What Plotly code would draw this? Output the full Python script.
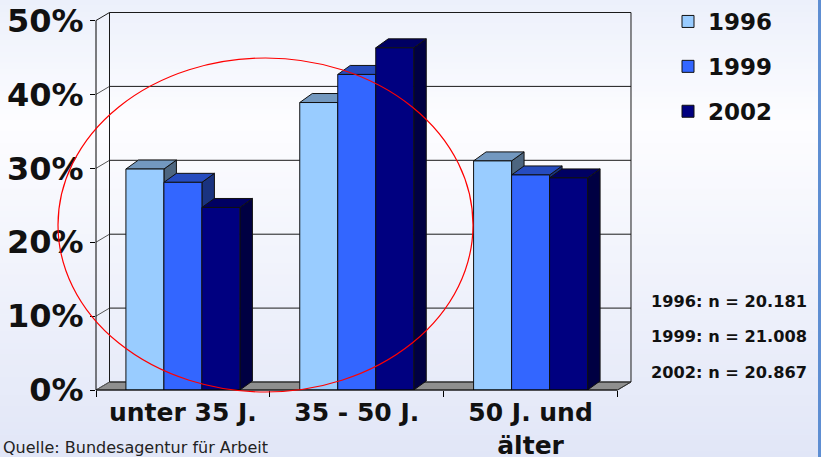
import plotly.graph_objects as go

# --- data -------------------------------------------------------------
categories = ["unter 35 J.", "35 - 50 J.", "50 J. und<br>älter"]
years = ["1996", "1999", "2002"]
share_1996 = [29.9, 38.9, 31.0]
share_1999 = [28.1, 42.7, 29.1]
share_2002 = [24.7, 46.3, 28.7]
sample_notes = ["1996: n = 20.181", "1999: n = 21.008", "2002: n = 20.867"]
y_ticks = [0, 10, 20, 30, 40, 50]
source_text = "Quelle: Bundesagentur für Arbeit"

series = [share_1996, share_1999, share_2002]
front_colors = ["#99CCFF", "#3366FF", "#000080"]
top_colors = ["#7398BF", "#264CBF", "#000062"]
side_colors = ["#4D6680", "#1A3380", "#000042"]

# --- geometry ---------------------------------------------------------
W, H = 821, 457
ML, MR, MT, MB = 96, 0, 0, 67
plot_w = W - ML - MR
plot_h = H - MT - MB
cat_px = 173.83          # pixels per category on the front plane
pct_px = 7.39            # pixels per percentage point
x_lo = -0.5
x_hi = x_lo + plot_w / cat_px
y_hi = plot_h / pct_px

# depth of the walls / floor and of the columns (pixels -> data units)
wdx, wdy = 13.5 / cat_px, 8.0 / pct_px
bdx, bdy = 12.5 / cat_px, 9.0 / pct_px
x_end = 2.5              # right end of the front plane
x_back = x_end + wdx     # right edge of the back wall

bar_w = 38.0 / cat_px


def dpx(xc):
    return (xc - x_lo) / (x_hi - x_lo)


def dpy(v):
    return v / y_hi


def ppx(x_pixel):
    return (x_pixel - ML) / plot_w


def ppy(y_pixel):
    return (H - MB - y_pixel) / plot_h


shapes = []

# page background: soft vertical gradient
stops = [(0.0, (236, 240, 251)), (0.27, (253, 253, 255)), (1.0, (225, 230, 247))]
n_bands = 80
for i in range(n_bands):
    t = (i + 0.5) / n_bands
    for (t0, c0), (t1, c1) in zip(stops[:-1], stops[1:]):
        if t0 <= t <= t1:
            f = (t - t0) / (t1 - t0)
            col = tuple(round(a + (b - a) * f) for a, b in zip(c0, c1))
            break
    shapes.append(dict(type="rect", xref="paper", yref="paper", layer="below",
                       x0=ppx(0), x1=ppx(W), y0=ppy(H * i / n_bands), y1=ppy(H * (i + 1) / n_bands + 0.6),
                       fillcolor="rgb(%d,%d,%d)" % col, line=dict(width=0)))

# blue frame edge on the right
shapes.append(dict(type="rect", xref="paper", yref="paper", layer="below",
                   x0=ppx(818), x1=ppx(821), y0=ppy(H), y1=ppy(0),
                   fillcolor="#5E8ED2", line=dict(width=0)))

# floor
shapes.append(dict(type="path", xref="paper", yref="paper", layer="below",
                   path="M %f %f L %f %f L %f %f L %f %f Z" % (
                       dpx(x_lo), dpy(0), dpx(x_end), dpy(0),
                       dpx(x_back), dpy(wdy), dpx(x_lo + wdx), dpy(wdy)),
                   fillcolor="#8F8F8F", line=dict(color="#555555", width=1)))

# back-wall gridlines and side-wall diagonals
for v in y_ticks:
    shapes.append(dict(type="line", xref="paper", yref="paper", layer="below",
                       x0=dpx(x_lo + wdx), x1=dpx(x_back), y0=dpy(v + wdy), y1=dpy(v + wdy),
                       line=dict(color="#1A1A1A", width=1)))
    shapes.append(dict(type="line", xref="paper", yref="paper", layer="below",
                       x0=dpx(x_lo), x1=dpx(x_lo + wdx), y0=dpy(v), y1=dpy(v + wdy),
                       line=dict(color="#555555" if v < 50 else "#1A1A1A", width=1)))

# back-wall edges
for xc in (x_lo + wdx, x_back):
    shapes.append(dict(type="line", xref="paper", yref="paper", layer="below",
                       x0=dpx(xc), x1=dpx(xc), y0=dpy(wdy), y1=dpy(50 + wdy),
                       line=dict(color="#1A1A1A", width=1)))

# column tops and sides (drawn behind the front faces)
for k, vals in enumerate(series):
    for i, v in enumerate(vals):
        x0 = i - 1.5 * bar_w + k * bar_w
        x1 = x0 + bar_w
        shapes.append(dict(type="path", xref="x", yref="y", layer="below",
                           path="M %f %f L %f %f L %f %f L %f %f Z" % (
                               x1, 0, x1 + bdx, bdy, x1 + bdx, v + bdy, x1, v),
                           fillcolor=side_colors[k], line=dict(color="#111111", width=1)))
        shapes.append(dict(type="path", xref="x", yref="y", layer="below",
                           path="M %f %f L %f %f L %f %f L %f %f Z" % (
                               x0, v, x1, v, x1 + bdx, v + bdy, x0 + bdx, v + bdy),
                           fillcolor=top_colors[k], line=dict(color="#111111", width=1)))

# front axis lines
shapes.append(dict(type="line", xref="paper", yref="paper", layer="above",
                   x0=dpx(x_lo), x1=dpx(x_lo), y0=dpy(0), y1=dpy(50),
                   line=dict(color="#000000", width=1)))
shapes.append(dict(type="line", xref="paper", yref="paper", layer="above",
                   x0=dpx(x_lo), x1=dpx(x_end), y0=dpy(0), y1=dpy(0),
                   line=dict(color="#000000", width=1)))
shapes.append(dict(type="line", xref="paper", yref="paper", layer="above",
                   x0=dpx(x_end), x1=dpx(x_back), y0=dpy(0), y1=dpy(wdy),
                   line=dict(color="#333333", width=1)))

# highlight ellipse
shapes.append(dict(type="circle", xref="paper", yref="paper", layer="above",
                   x0=ppx(58), x1=ppx(473), y0=ppy(392), y1=ppy(58),
                   line=dict(color="#FF0000", width=1.2)))

fig = go.Figure()
for k, (year, vals) in enumerate(zip(years, series)):
    fig.add_trace(go.Bar(
        x=categories, y=vals, name=year, legendgroup=year,
        width=bar_w, offset=-1.5 * bar_w + k * bar_w,
        marker=dict(color=front_colors[k], line=dict(color="#111111", width=1)),
        hoverinfo="skip",
    ))

annotations = []
for j, note in enumerate(sample_notes):
    annotations.append(dict(text="<b>%s</b>" % note, xref="paper", yref="paper",
                            x=ppx(649), y=ppy(301 + 35.5 * j), xanchor="left", yanchor="middle",
                            showarrow=False, font=dict(family="DejaVu Sans", size=16.2, color="#111111")))
annotations.append(dict(text=source_text, xref="paper", yref="paper",
                        x=ppx(1), y=ppy(448), xanchor="left", yanchor="middle",
                        showarrow=False, font=dict(family="DejaVu Sans", size=16, color="#222222")))

fig.update_layout(
    width=W, height=H, autosize=False,
    margin=dict(l=ML, r=MR, t=MT, b=MB, pad=0),
    paper_bgcolor="#F4F6FC", plot_bgcolor="rgba(0,0,0,0)",
    barmode="overlay",
    shapes=shapes, annotations=annotations,
    showlegend=True,
    legend=dict(x=ppx(668), y=ppy(0), xanchor="left", yanchor="top",
                bgcolor="rgba(0,0,0,0)", traceorder="grouped", tracegroupgap=12,
                font=dict(family="DejaVu Sans", size=23, color="#111111", weight="bold")),
    xaxis=dict(type="category", categoryorder="array", categoryarray=categories,
               range=[x_lo, x_hi], tickson="boundaries", ticks="outside", ticklen=6,
               tickcolor="#000000", showgrid=False, zeroline=False, showline=False,
               ticklabelstandoff=5, automargin=False,
               tickfont=dict(family="DejaVu Sans", size=25, color="#111111", weight="bold")),
    yaxis=dict(range=[0, y_hi], tickvals=y_ticks, ticktext=["%d%%" % v for v in y_ticks],
               ticks="outside", ticklen=5, tickcolor="#000000", showgrid=False,
               zeroline=False, showline=False, automargin=False,
               tickfont=dict(family="DejaVu Sans", size=32, color="#111111", weight="bold")),
)

fig.write_html("out.html")
